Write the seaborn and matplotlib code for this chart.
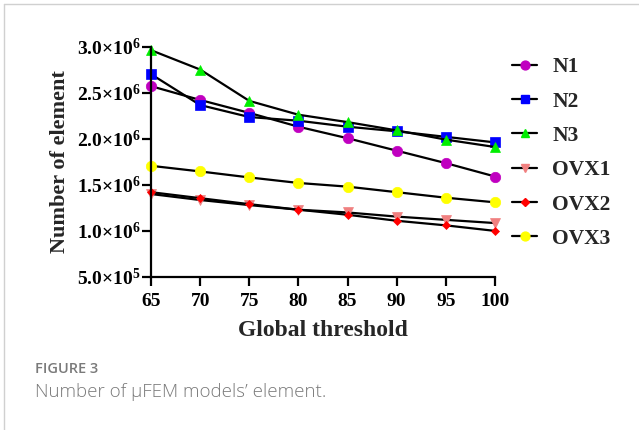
import numpy as np
import pandas as pd
import matplotlib
matplotlib.use('Agg')
import matplotlib.pyplot as plt
import seaborn as sns
from matplotlib.ticker import FuncFormatter
from matplotlib.lines import Line2D

# data
thresholds = [65, 70, 75, 80, 85, 90, 95, 100]
n1 = [2.57e6, 2.42e6, 2.28e6, 2.13e6, 2.005e6, 1.87e6, 1.735e6, 1.59e6]
n2 = [2.70e6, 2.365e6, 2.235e6, 2.195e6, 2.13e6, 2.08e6, 2.02e6, 1.96e6]
n3 = [2.96e6, 2.75e6, 2.41e6, 2.26e6, 2.18e6, 2.09e6, 1.99e6, 1.91e6]
ovx1 = [1.40e6, 1.335e6, 1.28e6, 1.23e6, 1.20e6, 1.155e6, 1.12e6, 1.085e6]
ovx2 = [1.42e6, 1.355e6, 1.29e6, 1.23e6, 1.175e6, 1.11e6, 1.06e6, 1.00e6]
ovx3 = [1.706e6, 1.645e6, 1.58e6, 1.52e6, 1.48e6, 1.42e6, 1.36e6, 1.31e6]

labels = ['N1', 'N2', 'N3', 'OVX1', 'OVX2', 'OVX3']
series = [n1, n2, n3, ovx1, ovx2, ovx3]
colors = ['#c000c0', '#0000ff', '#00ee00', '#f08080', '#ff0000', '#ffff00']
markers = ['o', 's', '^', 'v', 'D', 'o']
msizes = [7.5, 7, 7.5, 7.5, 4.5, 7.5]

sns.set_style('ticks')
plt.rcParams['font.family'] = ['Liberation Serif', 'DejaVu Serif']
plt.rcParams['font.weight'] = 'bold'
plt.rcParams['mathtext.fontset'] = 'custom'
plt.rcParams['mathtext.bf'] = 'Liberation Serif:bold'
plt.rcParams['mathtext.rm'] = 'Liberation Serif:bold'

fig = plt.figure(figsize=(6.39, 4.30), dpi=100)
ax = fig.add_axes([151 / 639, 1 - 277 / 430, (495 - 151) / 639, (277 - 46.5) / 430])

handles = []
for lab, vals, c, m, ms in zip(labels, series, colors, markers, msizes):
    df = pd.DataFrame({'threshold': thresholds, 'elements': vals})
    sns.lineplot(data=df, x='threshold', y='elements', ax=ax, color='black',
                 linewidth=1.6, marker=m, markersize=ms, markerfacecolor=c,
                 markeredgecolor=c, markeredgewidth=0.5, clip_on=False,
                 legend=False)
    handles.append(Line2D([], [], color='black', linewidth=1.6, marker=m,
                          markersize=ms * 0.85, markerfacecolor=c, markeredgecolor=c))

ax.set_xlim(65, 100)
ax.set_ylim(5e5, 3e6)
ax.set_xticks(thresholds)
ax.set_yticks([5e5, 1e6, 1.5e6, 2e6, 2.5e6, 3e6])


def sci(v, pos):
    exp = int(np.floor(np.log10(v)))
    mant = v / 10 ** exp
    return r'$\mathbf{%.1f{\times}10^{%d}}$' % (mant, exp)


ax.yaxis.set_major_formatter(FuncFormatter(sci))
for s in ['top', 'right']:
    ax.spines[s].set_visible(False)
for s in ['left', 'bottom']:
    ax.spines[s].set_linewidth(1.6)
    ax.spines[s].set_color('black')
ax.tick_params(axis='both', width=1.6, length=6.5, color='black',
               labelsize=14, labelcolor='black')
ax.tick_params(axis='y', pad=1)
ax.tick_params(axis='x', pad=5)
for t in ax.get_xticklabels():
    t.set_fontweight('bold')

ax.set_xlabel('Global threshold', fontsize=17, fontweight='bold', labelpad=7)
ax.set_ylabel('Number of element', fontsize=16, fontweight='bold', labelpad=5)

fig.legend(handles, labels, loc='upper left', bbox_to_anchor=(493 / 639, 1 - 38 / 430),
           frameon=False, prop={'family': 'Liberation Serif', 'weight': 'bold', 'size': 15.5},
           handlelength=1.15, handletextpad=0.7, labelspacing=0.66)

# page frame and caption
fig.add_artist(Line2D([4 / 639, 4 / 639], [0, 1 - 4 / 430], color='#d0d0d0', linewidth=1))
fig.add_artist(Line2D([4 / 639, 1], [1 - 4 / 430, 1 - 4 / 430], color='#d0d0d0', linewidth=1))
fig.text(35 / 639, 1 - 369 / 430, 'FIGURE 3', family='Open Sans', fontsize=10.5,
         fontweight='semibold', color='#7a7a7a', va='center')
fig.text(35 / 639, 1 - 392 / 430, 'Number of \u00b5FEM models\u2019 element.', family='Open Sans',
         fontsize=13.5, fontweight='light', color='#7a7a7a', va='center')

fig.savefig('out.png', dpi=100)
